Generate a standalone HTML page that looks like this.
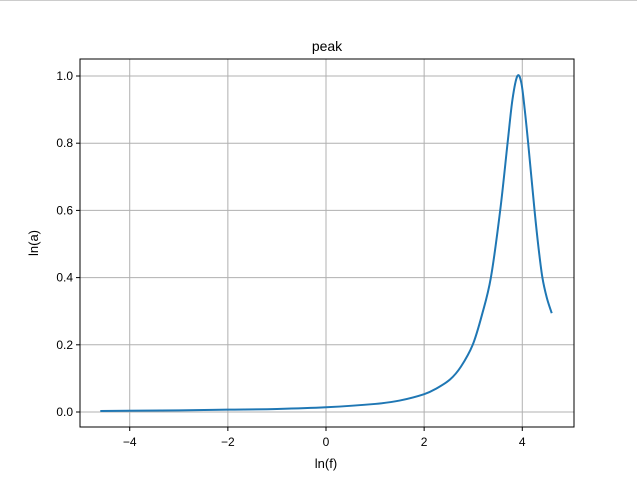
<!DOCTYPE html>
<html><head><meta charset="utf-8"><style>
body{margin:0;background:#fff;}
svg{display:block;font-family:"Liberation Sans","DejaVu Sans",sans-serif;}
</style></head><body>
<svg id="chart" width="637" height="481">
<rect x="0" y="0" width="637" height="481" fill="#fff"/>
<line x1="0" y1="0.5" x2="637" y2="0.5" stroke="#ccc"/>
<g id="grid"></g>
<g id="ticks"></g>
<rect x="80" y="59" width="494" height="368" fill="none" stroke="#000" stroke-width="1"/>
<text x="327" y="51" text-anchor="middle" font-size="14">peak</text>
<text x="326" y="468" text-anchor="middle" font-size="13">ln(f)</text>
<text transform="translate(38,243) rotate(-90)" text-anchor="middle" font-size="13">ln(a)</text>
<path id="line" fill="none" stroke="#1f77b4" stroke-width="2"/>
</svg>
<script>
const xVals=[-4.6,-3,-2,-1,0,1,1.5,2,2.25,2.53,2.75,2.99,3.18,3.36,3.55,3.7,3.8,3.9,3.98,4.05,4.12,4.25,4.33,4.41,4.5,4.6];
const yVals=[0.003,0.005,0.007,0.009,0.014,0.024,0.034,0.053,0.07,0.097,0.135,0.2,0.29,0.4,0.6,0.8,0.93,1.0,0.98,0.9,0.8,0.6,0.49,0.4,0.34,0.294];
const xTicks=[-4,-2,0,2,4];
const yTicks=[0.0,0.2,0.4,0.6,0.8,1.0];
function sx(v){return 326+v*49.07;}
function sy(v){return 412-v*336;}
const NS="http://www.w3.org/2000/svg";
const grid=document.getElementById('grid'),ticks=document.getElementById('ticks');
function mk(tag,attrs,parent){const e=document.createElementNS(NS,tag);for(const k in attrs)e.setAttribute(k,attrs[k]);parent.appendChild(e);return e;}
xTicks.forEach(t=>{
  const x=sx(t);
  const g=mk('line',{x1:x,y1:59,x2:x,y2:427,stroke:'#b0b0b0','stroke-width':1},grid);
  
  
  const tk=mk('line',{x1:x,y1:427,x2:x,y2:431,stroke:'#000'},ticks);
  
  
  const lb=mk('text',{x:x,y:446,'text-anchor':'middle','font-size':12},ticks);
  lb.textContent=(t<0?'\u2212':'')+Math.abs(t);
  
  
});
yTicks.forEach(t=>{
  const y=sy(t);
  const g=mk('line',{x1:80,y1:y,x2:574,y2:y,stroke:'#b0b0b0','stroke-width':1},grid);
  
  
  const tk=mk('line',{x1:76,y1:y,x2:80,y2:y,stroke:'#000'},ticks);
  
  
  const lb=mk('text',{x:73,y:y+4,'text-anchor':'end','font-size':12},ticks);
  lb.textContent=t.toFixed(1);
  
  
});
const pts=xVals.map((x,i)=>[sx(x),sy(yVals[i])]);
let d='M'+pts[0][0]+','+pts[0][1];
for(let i=0;i<pts.length-1;i++){
  const p0=pts[Math.max(0,i-1)],p1=pts[i],p2=pts[i+1],p3=pts[Math.min(pts.length-1,i+2)];
  const c1=[p1[0]+(p2[0]-p0[0])/6,p1[1]+(p2[1]-p0[1])/6];
  const c2=[p2[0]-(p3[0]-p1[0])/6,p2[1]-(p3[1]-p1[1])/6];
  d+=' C'+c1[0]+','+c1[1]+' '+c2[0]+','+c2[1]+' '+p2[0]+','+p2[1];
}
document.getElementById('line').setAttribute('d',d);
</script>
</body></html>
